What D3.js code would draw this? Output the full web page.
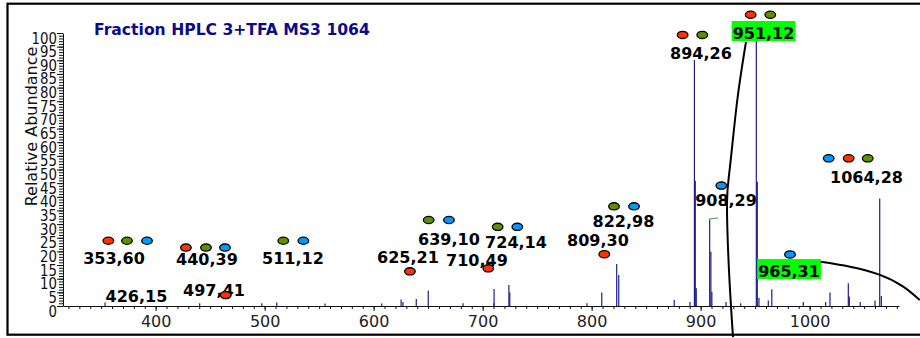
<!DOCTYPE html>
<html><head><meta charset="utf-8">
<script src="https://cdn.jsdelivr.net/npm/d3@7"></script>
<style>body{margin:0;background:#fff}svg{display:block}</style>
</head><body><svg id="c" width="920" height="338"></svg>
<script>
const title = "Fraction HPLC 3+TFA MS3 1064";
const yTitle = "Relative Abundance";
const xTickValues = [400, 500, 600, 700, 800, 900, 1000];
const yTickValues = d3.range(0, 101, 5);

// spectrum sticks (m/z, relative abundance)
const peakMz  = [353.6, 440.4, 497.4, 511.1, 555.4, 607.4, 625.2, 626.9, 639.1, 650.1, 682.0,
                 710.4, 710.5, 724.1, 724.9, 795.7, 809.3, 823.0, 824.9, 875.8, 890.2,
                 894.3, 895.1, 896.0, 908.3, 909.4, 910.3, 923.3, 936.7, 951.1, 952.0, 953.5,
                 962.1, 965.3, 994.2, 1014.7, 1018.7, 1035.5, 1036.4, 1046.4, 1060.0, 1064.3, 1065.8];
const peakInt = [1.3, 1.0, 1.0, 1.3, 0.9, 0.9, 2.4, 1.5, 2.6, 5.6, 1.0,
                 1.0, 6.2, 7.7, 4.9, 1.0, 4.9, 15.4, 11.4, 2.2, 1.5,
                 90.1, 45.9, 6.5, 31.7, 19.9, 5.2, 1.5, 1.0, 100, 45.5, 3.0,
                 2.0, 6.1, 1.5, 1.5, 4.9, 8.3, 3.5, 1.5, 2.0, 39.4, 3.7];

// peak annotations
const labelText = ["353,60", "426,15", "440,39", "497,41", "511,12", "625,21", "639,10", "724,14",
                   "710,49", "809,30", "822,98", "894,26", "951,12", "908,29", "965,31", "1064,28"];
const labelMz   = [361.8, 382.4, 447.1, 453.5, 526.0, 631.5, 669.1, 730.6,
                   694.8, 805.8, 829.2, 900.3, 957.7, 923.3, 981.1, 1052.2];
const labelInt  = [15.4, 1.5, 15.0, 3.7, 15.4, 15.8, 22.2, 21.2,
                   14.5, 21.8, 28.9, 90.5, 97.8, 36.8, 10.6, 45.1];
const labelHighlight = [0, 0, 0, 0, 0, 0, 0, 0, 0, 0, 0, 0, 1, 0, 1, 0];

// coloured markers
const dotMz    = [356.6, 373.7, 392.1, 427.8, 446.2, 463.6, 464.3, 517.1, 535.5, 633.3, 650.5, 669.1,
                  713.8, 731.8, 705.2, 811.6, 820.5, 838.9, 883.5, 901.5, 945.9, 963.9, 919.0, 982.0,
                  1017.5, 1035.8, 1053.3];
const dotInt   = [23.9, 23.9, 23.9, 21.4, 21.4, 21.4, 4.0, 23.9, 23.9, 12.7, 31.5, 31.5,
                  29.0, 29.0, 13.8, 19.0, 36.5, 36.5, 99.3, 99.3, 106.7, 106.7, 44.1, 18.9,
                  54.1, 54.1, 54.1];
const dotColor = ["r", "g", "b", "r", "g", "b", "r", "g", "b", "r", "g", "b",
                  "g", "b", "r", "r", "g", "b", "r", "g", "r", "g", "b", "b",
                  "b", "r", "g"];

// hand-drawn annotation curves
const curveAMz  = [941.6, 933.5, 926.9, 924.2, 926.0, 929.7];
const curveAInt = [96.7, 75.0, 50.9, 37.7, 13.2, -11.4];
const curveBMz  = [1010.1, 1037.0, 1064.5, 1085.9, 1101.0];
const curveBInt = [16.2, 14.4, 11.4, 7.1, 2.2];
const stickMz  = [907.6, 916.0];
const stickInt = [31.9, 32.2];

const colorMap = {r: "#ff3300", g: "#5f8f00", b: "#0099ff"};

const svg = d3.select("#c");
const x = d3.scaleLinear().domain([315, 1082]).range([63, 899]);
const y = d3.scaleLinear().domain([0, 100]).range([306, 33]);
const font = "'DejaVu Sans', Verdana, sans-serif";

// frame
svg.append("rect").attr("x", 7.5).attr("y", 3.7).attr("width", 940).attr("height", 331)
  .attr("fill", "none").attr("stroke", "#000").attr("stroke-width", 2.2);

// y title
svg.append("text").attr("transform", "translate(37,126.5) rotate(-90)")
  .attr("text-anchor", "middle").attr("font-family", font).attr("font-size", 16)
  .attr("fill", "#111").text(yTitle);

// axes
const gy = svg.append("g").attr("transform", "translate(63,0)");
gy.call(d3.axisLeft(y).tickValues(d3.range(0, 101, 1)).tickSize(4).tickSizeOuter(0).tickFormat(""));
const gy2 = svg.append("g").attr("transform", "translate(63,0)");
gy2.call(d3.axisLeft(y).tickValues(yTickValues).tickSize(6).tickSizeOuter(0).tickFormat(d3.format("d")));
gy2.select(".domain").remove();
gy2.selectAll("text").attr("font-family", font).attr("font-size", 15.5).attr("fill", "#111")
  .attr("transform", "scale(0.86,1)").attr("x", -6 / 0.86).attr("dy", 0).attr("y", 10);

const gx = svg.append("g").attr("transform", "translate(0,306)");
gx.call(d3.axisBottom(x).tickValues(d3.range(320, 1081, 10)).tickSize(3).tickSizeOuter(0).tickFormat(""));
const gx2 = svg.append("g").attr("transform", "translate(0,306)");
gx2.call(d3.axisBottom(x).tickValues(xTickValues).tickSize(5).tickSizeOuter(0).tickFormat(d3.format("d")));
gx2.select(".domain").remove();
gx2.selectAll("text").attr("font-family", font).attr("font-size", 16).attr("fill", "#222")
  .attr("dy", 0).attr("y", 21);
svg.selectAll(".domain, .tick line").attr("stroke", "#111");

// sticks
svg.append("g").selectAll("line").data(peakMz).join("line")
  .attr("x1", d => x(d)).attr("x2", d => x(d))
  .attr("y1", y(0)).attr("y2", (d, i) => y(peakInt[i]))
  .attr("stroke", "#1e1e90").attr("stroke-width", 1.2);

// green stick cap
svg.append("path")
  .attr("d", d3.line().x(d => x(d[0])).y(d => y(d[1]))(stickMz.map((m, i) => [m, stickInt[i]])))
  .attr("stroke", "#5cb85c").attr("stroke-width", 1.2).attr("fill", "none");

// title
svg.append("text").attr("x", 94).attr("y", 35).attr("font-family", font)
  .attr("font-weight", "bold").attr("font-size", 15.6).attr("fill", "#0a0a8c").text(title);

// labels
const lg = svg.append("g");
labelText.forEach((t, i) => {
  const g = lg.append("g");
  const tx = g.append("text").attr("x", x(labelMz[i])).attr("y", y(labelInt[i]))
    .attr("text-anchor", "middle").attr("font-family", font).attr("font-weight", "bold")
    .attr("font-size", 16).attr("fill", "#000").text(t);
  if (labelHighlight[i]) {
    const bb = tx.node().getBBox();
    g.insert("rect", "text").attr("x", bb.x - 1).attr("y", y(labelInt[i]) - 18)
      .attr("width", bb.width + 2).attr("height", 20).attr("fill", "#00ff00");
  }
});

// curves
const cl = d3.line().x(d => x(d[0])).y(d => y(d[1])).curve(d3.curveNatural);
svg.append("path").attr("d", cl(curveAMz.map((m, i) => [m, curveAInt[i]])))
  .attr("fill", "none").attr("stroke", "#000").attr("stroke-width", 2);
svg.append("path").attr("d", cl(curveBMz.map((m, i) => [m, curveBInt[i]])))
  .attr("fill", "none").attr("stroke", "#000").attr("stroke-width", 2);

// dots
svg.append("g").selectAll("ellipse").data(dotMz).join("ellipse")
  .attr("cx", d => x(d)).attr("cy", (d, i) => y(dotInt[i]))
  .attr("rx", 5.3).attr("ry", 3.6)
  .attr("fill", (d, i) => colorMap[dotColor[i]])
  .attr("stroke", "#000").attr("stroke-width", 1.3);
</script></body></html>
